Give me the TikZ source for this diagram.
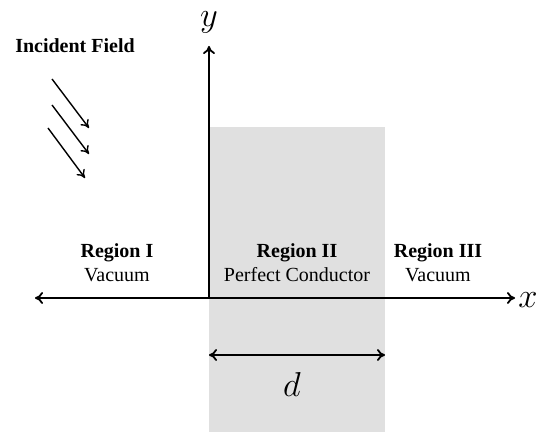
\documentclass[tikz,border=0pt]{standalone}
\usepackage{fontspec}
\setmainfont{Liberation Serif}
\usetikzlibrary{arrows.meta}
\usetikzlibrary{positioning}
\tikzset{
    axis/.style = {line width=0.9pt,{To[length=4pt,width=6pt]}-{To[length=4pt,width=6pt]}},
    yaxis/.style = {line width=0.9pt,-{To[length=4pt,width=6pt]}},
    field/.style = {line width=0.7pt,-{To[length=4pt,width=5pt]}},
    region/.style = {align=center,inner sep=0pt}
}
\definecolor{slab}{RGB}{224,224,224}

\begin{document}
\begin{tikzpicture}[x=0.5pt,y=-0.5pt]
        \useasboundingbox (0,0) rectangle (539,432);
        % Conductor slab
        \fill[slab] (209,127) rectangle (385,432);
        % Axes
        \path (209,298) coordinate (O)
            (35,298) coordinate (xl)
            (515,298) coordinate (xr)
            (209,46) coordinate (yt)
        ;
        \node (x) at (528,300) {\LARGE $x$};
        \node (y) at (209,22) {\LARGE $y$};
        \draw[axis] (xl) to (xr);
        \draw[yaxis] (O) to (yt);
        % Thickness
        \path (209,355) coordinate (dl)
            (385,355) coordinate (dr)
        ;
        \draw[axis] (dl) to (dr);
        \node (d) at (292,384) {\LARGE $d$};
        % Regions
        \node[region] (r1) at (117,263) {\textbf{Region I}\\Vacuum};
        \node[region] (r2) at (297,263) {\textbf{Region II}\\Perfect Conductor};
        \node[region] (r3) at (438,263) {\textbf{Region III}\\Vacuum};
        % Incident field
        \node (inc) at (75,46) {\textbf{Incident Field}};
        \path (52,79) coordinate (f1s) (89,128) coordinate (f1e)
            (52,105) coordinate (f2s) (89,154) coordinate (f2e)
            (48,128) coordinate (f3s) (85,178) coordinate (f3e)
        ;
        \foreach \src/\dest in {f1s/f1e,f2s/f2e,f3s/f3e}
            \draw[field] (\src) to (\dest);
    \end{tikzpicture}
\end{document}
